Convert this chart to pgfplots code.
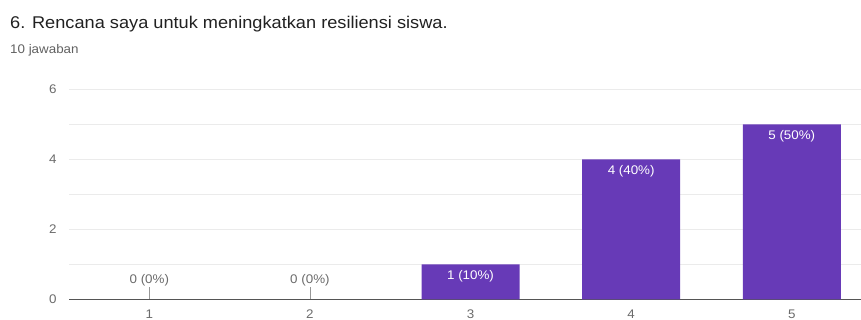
\documentclass[border=0pt]{standalone}
\usepackage{pgfplots}
\pgfplotsset{compat=1.18}
\usepackage{fontspec}
\setmainfont{Liberation Sans}[FakeStretch=1.07]
\definecolor{barpurple}{HTML}{673AB7}
\definecolor{titlecol}{HTML}{212121}
\definecolor{subcol}{HTML}{616161}
\definecolor{tickcol}{HTML}{6B6B6B}
\definecolor{gridcol}{HTML}{EBEBEB}
\definecolor{axiscol}{HTML}{555555}
\begin{document}
\begin{tikzpicture}[x=1pt,y=1pt]
\useasboundingbox (0,0) rectangle (861,320);
\node[anchor=base west, inner sep=0pt, text=titlecol, font=\fontsize{17}{20}\selectfont] at (10,291) {6. Rencana saya untuk meningkatkan resiliensi siswa.};
\node[anchor=base west, inner sep=0pt, text=subcol, font=\fontsize{12.5}{15}\selectfont] at (10,266) {10 jawaban};
\begin{axis}[
  at={(69pt,20.5pt)}, anchor=south west,
  scale only axis, width=792pt, height=210pt,
  xmin=0.5, xmax=5.431, ymin=0, ymax=6,
  ybar, bar width=98pt, bar shift=0pt,
  axis x line*=bottom, axis y line*=left,
  x axis line style={-, draw=axiscol, line width=1.3pt},
  y axis line style={draw=none},
  xtick={1,2,3,4,5}, ytick={0,2,4,6}, minor ytick={1,3,5},
  ymajorgrids, yminorgrids,
  major grid style={draw=gridcol, line width=0.9pt},
  minor grid style={draw=gridcol, line width=0.9pt},
  tick align=inside,
  xtick style={draw=tickcol!70, line width=0.8pt},
  ytick style={draw=none},
  minor tick style={draw=none},
  x tick label style={yshift=-7pt},
  major tick length=12pt,
  /pgf/number format/assume math mode=true,
  tick label style={font=\fontsize{12.5}{15}\selectfont, text=tickcol},
  yticklabel style={xshift=-9pt},
  point meta=explicit symbolic,
  nodes near coords,
  clip=false,
]
\addplot[fill=barpurple, draw=none,
  every node near coord/.append style={anchor=center, yshift=-11.5pt, text=white, font=\fontsize{12.5}{15}\selectfont}]
  coordinates {(3,1) [1 (10\%)] (4,4) [4 (40\%)] (5,5) [5 (50\%)]};
\addplot[fill=none, draw=none,
  every node near coord/.append style={anchor=center, yshift=19pt, text=tickcol, font=\fontsize{12.5}{15}\selectfont}]
  coordinates {(1,0) [0 (0\%)] (2,0) [0 (0\%)]};
\end{axis}
\end{tikzpicture}
\end{document}
